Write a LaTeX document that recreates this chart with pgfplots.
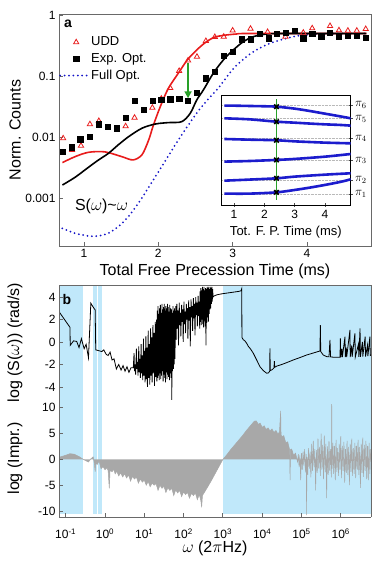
\documentclass[border=0pt]{standalone}
\usepackage{fontspec}
\setmainfont{Liberation Sans}
\usepackage{pgfplots}
\pgfplotsset{compat=1.18}
\usetikzlibrary{arrows.meta}
\definecolor{shadeblue}{RGB}{192,232,250}
\definecolor{udred}{RGB}{232,28,28}
\definecolor{fullblue}{RGB}{20,20,200}
\definecolor{inblue}{RGB}{28,28,205}
\definecolor{arrgreen}{RGB}{40,160,40}
\definecolor{impgray}{RGB}{168,168,168}
\definecolor{framegray}{RGB}{105,105,105}
\newcommand{\fs}[1]{\fontsize{#1}{#1}\selectfont}
\pgfplotsset{
 marklegend/.style={legend image code/.code={\path[draw=none,fill=none] (0pt,0pt) -- (28pt,0pt); \draw[##1, only marks] plot coordinates {(16pt,0pt)};}},
 linelegend/.style={legend image code/.code={\draw[##1] (0pt,0pt) -- (28pt,0pt);}},
}
\begin{document}
\begin{tikzpicture}
\path[use as bounding box] (0pt,0pt) rectangle (383pt,561pt);
% ---------------- panel a ----------------
\begin{axis}[
 at={(59pt,315pt)}, anchor=south west, scale only axis, width=312pt, height=232pt,
 xmin=0.664, xmax=4.861, ymode=log, ymin=1.63e-4, ymax=1.038,
 xtick={1,2,3,4}, ytick={0.001,0.01,0.1,1}, yticklabels={0.001,0.01,0.1,1},
 yminorticks=false, xminorticks=false,
 tick align=inside, tick pos=left, major tick length=4pt,
 axis line style={framegray, line width=0.8pt},
 every tick/.style={framegray, line width=0.8pt},
 tick label style={font=\fs{12}},
 /pgf/number format/assume math mode=true,
 xlabel={Total Free Precession Time (ms)}, ylabel={Norm. Counts},
 label style={font=\fs{16}},
 xlabel style={at={(axis description cs:0.5,-0.111)}, anchor=center},
 ylabel style={at={(axis description cs:-0.141,0.5)}, anchor=center},
 legend cell align=left,
 legend style={at={(axis description cs:0.0,0.806)}, anchor=west, draw=none, fill=none,
   font=\fs{13}, row sep=2pt, inner xsep=0pt, inner ysep=0pt,
   /tikz/every even column/.append style={column sep=5pt}},
]
\addplot[only marks, mark=triangle, mark size=3pt, udred, mark options={line width=0.8pt}, marklegend]
 coordinates {(0.72,0.0095) (0.84,0.0061) (0.96,0.0072) (1.08,0.0162) (1.20,0.0183)
 (1.56,0.0150) (1.68,0.0207) (1.92,0.0302) (2.04,0.0425) (2.16,0.0636) (2.28,0.121)
 (2.40,0.1795) (2.52,0.207) (2.64,0.375) (2.76,0.436) (2.88,0.441) (3.00,0.557)
 (3.24,0.596) (3.47,0.527) (3.71,0.441) (3.95,0.513) (4.07,0.605) (4.31,0.660)
 (4.43,0.561) (4.55,0.553) (4.67,0.553) (4.79,0.589)};
\addlegendentry{UDD}
\addplot[only marks, mark=square*, mark size=2.6pt, black, marklegend]
 coordinates {(0.71,0.00574) (0.83,0.00678) (0.95,0.00917) (1.08,0.0101) (1.20,0.0162)
 (1.32,0.0148) (1.44,0.0139) (1.56,0.0207) (1.68,0.0389) (1.80,0.0277) (1.92,0.0389)
 (2.04,0.0404) (2.16,0.0415) (2.28,0.0425) (2.40,0.0389) (2.52,0.0532) (2.64,0.0917)
 (2.76,0.1175) (2.88,0.213) (3.00,0.250) (3.12,0.400) (3.24,0.400) (3.36,0.488)
 (3.48,0.415) (3.59,0.488) (3.71,0.513) (3.83,0.553) (3.95,0.415) (4.07,0.49)
 (4.19,0.441) (4.31,0.513) (4.43,0.441) (4.55,0.453) (4.67,0.453) (4.79,0.425)};
\addlegendentry{Exp. Opt.}
\addplot[fullblue, line width=2pt, dash pattern=on 0pt off 4.4pt, line cap=round, smooth, linelegend]
 coordinates {(0.708,3.18e-4) (0.879,2.64e-4) (1.058,2.38e-4) (1.192,2.38e-4) (1.327,2.64e-4)
 (1.462,3.39e-4) (1.596,4.93e-4) (1.731,8.18e-4) (1.865,1.46e-3) (2.0,2.67e-3)
 (2.135,4.88e-3) (2.269,8.93e-3) (2.404,0.0157) (2.538,0.0267) (2.673,0.042)
 (2.808,0.0636) (2.942,0.104) (3.055,0.151) (3.279,0.250) (3.503,0.343)
 (3.728,0.415) (3.952,0.470) (4.176,0.488) (4.446,0.497) (4.80,0.497)};
\addlegendentry{Full Opt.}
\addplot[udred, line width=1.6pt, smooth, forget plot]
 coordinates {(0.71,0.0038) (0.88,0.00475) (1.06,0.0056) (1.28,0.0057) (1.51,0.00475)
 (1.66,0.0042) (1.78,0.0051) (1.87,0.0089) (1.93,0.0151) (2.02,0.030) (2.13,0.061)
 (2.269,0.111) (2.39,0.183) (2.517,0.267) (2.638,0.357) (2.754,0.431) (2.875,0.463)
 (3.055,0.488) (3.234,0.497) (4.8,0.497)};
\addplot[black, line width=1.6pt, smooth, forget plot]
 coordinates {(0.71,0.00163) (0.88,0.00218) (1.06,0.00318) (1.19,0.00415) (1.33,0.0054)
 (1.46,0.0074) (1.60,0.0101) (1.78,0.0139) (1.96,0.0163) (2.135,0.0172) (2.315,0.0178)
 (2.43,0.0245) (2.517,0.0404) (2.606,0.0589) (2.74,0.111) (2.875,0.183) (3.009,0.267)
 (3.144,0.365) (3.279,0.441) (3.459,0.488) (3.7,0.497) (4.8,0.497)};
\addplot[arrgreen, line width=1.8pt, -{Triangle[width=7pt,length=7pt]}, forget plot]
 coordinates {(2.40,0.163) (2.40,0.0431)};
\node[font=\bfseries\fs{14}] at (rel axis cs:0.029,0.957) {a};
\node[font=\fs{16}, anchor=west] at (rel axis cs:0.040,0.172) {S($\omega$)\textasciitilde$\omega$};
\end{axis}
% ---------------- inset ----------------
\begin{axis}[
 at={(221pt,356pt)}, anchor=south west, scale only axis, width=129.7pt, height=109.3pt,
 xmin=0.571, xmax=4.848, ymin=-0.062, ymax=1.044,
 axis background/.style={fill=white},
 xtick={1,2,3,4}, ytick={0.0495,0.1883,0.3887,0.6113,0.8117,0.9505},
 yticklabels={$\pi_1$,$\pi_2$,$\pi_3$,$\pi_4$,$\pi_5$,$\pi_6$},
 xtick pos=left, ytick pos=right, tick align=center, major tick length=4pt,
 ymajorgrids, grid style={densely dotted, gray!55},
 axis line style={black, line width=0.8pt},
 every tick/.style={black!70, line width=0.7pt},
 tick label style={font=\fs{12}},
 yticklabel style={font=\fs{12}, xshift=-1pt},
 /pgf/number format/assume math mode=true,
 xlabel={Tot. F. P. Time (ms)},
 xlabel style={font=\fs{13}, at={(axis description cs:0.5,-0.244)}, anchor=center},
]
\addplot[inblue, line width=2.6pt, smooth] coordinates {(0.68,0.943) (1.0,0.943) (1.5,0.940) (2.0,0.937) (2.4,0.933) (3.0,0.913) (3.5,0.889) (4.0,0.862) (4.5,0.835) (4.85,0.815)};
\addplot[inblue, line width=2.6pt, smooth] coordinates {(0.68,0.815) (1.5,0.805) (2.4,0.781) (3.0,0.771) (3.5,0.762) (4.0,0.754) (4.5,0.748) (4.85,0.741)};
\addplot[inblue, line width=2.6pt, smooth] coordinates {(0.68,0.606) (1.5,0.599) (2.4,0.593) (3.0,0.582) (4.0,0.569) (4.85,0.562)};
\addplot[inblue, line width=2.6pt, smooth] coordinates {(0.68,0.377) (1.5,0.383) (2.4,0.394) (3.0,0.404) (4.0,0.427) (4.85,0.454)};
\addplot[inblue, line width=2.6pt, smooth] coordinates {(0.68,0.184) (1.5,0.195) (2.4,0.208) (3.0,0.225) (4.0,0.245) (4.85,0.259)};
\addplot[inblue, line width=2.6pt, smooth] coordinates {(0.68,0.053) (1.5,0.053) (2.4,0.066) (3.0,0.090) (3.5,0.114) (4.0,0.141) (4.5,0.171) (4.85,0.198)};
\addplot[arrgreen, line width=1.2pt] coordinates {(2.4,-0.011) (2.4,1.008)};
\addplot[only marks, mark=x, mark size=3.2pt, black, mark options={line width=1.6pt}]
 coordinates {(2.4,0.933) (2.4,0.781) (2.4,0.593) (2.4,0.394) (2.4,0.208) (2.4,0.066)};
\end{axis}
% ---------------- panel b, upper ----------------
\begin{axis}[
 at={(59pt,161pt)}, anchor=south west, scale only axis, width=312pt, height=115pt,
 xmin=-1.17, xmax=6.769, ymin=-5.16, ymax=5.07,
 axis x line*=top, xtick=\empty,
 ytick={-4,-2,0,2,4}, yticklabels={-4,-2,0,2,4}, ytick pos=left,
 tick align=inside, major tick length=4pt, axis on top,
 axis line style={framegray, line width=0.8pt},
 every tick/.style={framegray, line width=0.8pt},
 tick label style={font=\fs{12}},
 ylabel={log (S($\omega$)) (rad/s)}, label style={font=\fs{16}},
 ylabel style={at={(axis description cs:-0.141,0.5)}, anchor=center},
]
\addplot[fill=shadeblue, draw=none] coordinates {(-1.17,-5.16) (-1.17,5.07) (-0.567,5.07) (-0.567,-5.16)};
\addplot[fill=shadeblue, draw=none] coordinates {(-0.313,-5.16) (-0.313,5.07) (-0.211,5.07) (-0.211,-5.16)};
\addplot[fill=shadeblue, draw=none] coordinates {(-0.170,-5.16) (-0.170,5.07) (-0.084,5.07) (-0.084,-5.16)};
\addplot[fill=shadeblue, draw=none] coordinates {(3.0,-5.16) (3.0,5.07) (6.769,5.07) (6.769,-5.16)};
\addplot[black, line width=0.8pt] coordinates {
(-1.17,2.70) (-0.89,1.30) (-0.885,-0.30) (-0.80,0.10) (-0.72,0.05) (-0.66,-0.50) (-0.60,0.30)
(-0.53,-0.60) (-0.48,-0.20) (-0.42,-1.40) (-0.36,3.45) (-0.30,3.10) (-0.25,2.85) (-0.235,-0.70)
(-0.08,-0.85) (-0.03,-0.70) (0.03,-1.10) (0.08,-1.20) (0.13,-0.90) (0.18,-1.60) (0.23,-1.50)
(0.29,-2.40) (0.35,-2.00) (0.41,-2.50) (0.46,-2.10) (0.51,-2.60) (0.56,-2.20) (0.61,-2.70)
(0.66,-2.30) (0.72,-2.30)
(0.74,-1.0) (0.75,-2.6) (0.77,-2.0) (0.78,-2.9) (0.80,-0.6) (0.81,-2.4) (0.83,-1.8) (0.84,-3.0)
(0.86,-0.4) (0.87,-2.7) (0.89,-1.5) (0.90,-3.2) (0.92,-0.2) (0.93,-2.8) (0.95,-1.2) (0.96,-3.4)
(0.98,0.3) (0.99,-3.0) (1.01,-0.8) (1.02,-3.6) (1.04,0.5) (1.05,-3.3) (1.07,-0.5) (1.08,-4.0)
(1.10,1.0) (1.11,-3.2) (1.13,-0.2) (1.14,-3.8) (1.16,1.2) (1.17,-3.0) (1.19,0.4) (1.20,-3.6)
(1.22,1.5) (1.23,-2.8) (1.25,0.8) (1.26,-3.9) (1.28,1.8) (1.29,-3.1) (1.31,2.0) (1.32,-3.5)
(1.33,2.8) (1.34,-3.2) (1.35,3.2) (1.36,-3.0) (1.37,2.5) (1.38,-3.4) (1.39,3.0) (1.40,-2.8)
(1.41,3.3) (1.42,-3.3) (1.43,2.6) (1.44,-3.0) (1.45,3.4) (1.46,-2.6) (1.47,2.9) (1.48,-3.5)
(1.49,3.1) (1.50,-2.9) (1.51,3.4) (1.52,-3.2) (1.53,2.8) (1.54,-3.6) (1.55,3.2) (1.56,-2.7)
(1.57,3.0) (1.58,-3.3) (1.59,3.4) (1.60,-2.9) (1.61,3.1) (1.62,-3.1) (1.63,2.7) (1.64,-3.4)
(1.65,3.3) (1.66,-2.8) (1.67,3.0) (1.68,-3.2) (1.69,2.9) (1.70,-5.2) (1.71,2.6) (1.72,-2.6)
(1.73,3.2) (1.74,-2.4) (1.75,2.8) (1.76,-2.0) (1.77,3.0) (1.78,-1.5)
(1.80,3.2) (1.81,0.2) (1.83,3.4) (1.84,1.2) (1.86,2.8) (1.87,-0.3) (1.89,3.5) (1.90,1.5)
(1.92,2.6) (1.93,0.5) (1.95,3.3) (1.96,1.8) (1.98,2.9) (1.99,0.0) (2.01,3.6) (2.02,1.6)
(2.04,2.7) (2.05,0.8) (2.07,3.4) (2.08,2.0) (2.10,3.0) (2.11,0.3) (2.13,3.7) (2.14,1.9)
(2.16,3.1) (2.17,-0.4) (2.19,3.8) (2.20,2.2) (2.22,3.2) (2.23,1.0) (2.25,3.9) (2.26,2.1)
(2.28,3.4) (2.29,0.6) (2.31,4.0) (2.32,2.4) (2.34,3.5) (2.35,1.4) (2.37,4.1) (2.38,2.3)
(2.40,3.6) (2.41,1.2)
(2.42,4.5) (2.43,1.8) (2.44,4.8) (2.45,1.5) (2.46,4.6) (2.47,2.0) (2.48,4.9) (2.49,1.6)
(2.50,4.7) (2.51,1.3) (2.52,4.9) (2.53,1.9) (2.54,4.6) (2.55,1.4) (2.56,4.8) (2.57,-0.3)
(2.58,4.7) (2.59,1.7) (2.60,4.9) (2.61,2.2) (2.62,4.8) (2.63,1.8) (2.64,4.9) (2.65,2.5)
(2.66,4.7) (2.67,2.9) (2.68,4.9) (2.69,3.0) (2.70,4.8) (2.71,3.4) (2.72,4.9) (2.73,3.6)
(2.74,4.7) (2.75,4.0)
(2.78,4.1) (2.85,4.2) (2.92,4.25) (3.0,4.3) (3.1,4.35) (3.2,4.4) (3.3,4.45) (3.4,4.5) (3.46,4.55)
(3.48,4.75) (3.485,0.40) (3.52,0.20) (3.56,0.10) (3.606,-0.12) (3.65,-0.40) (3.70,-0.60)
(3.774,-1.00) (3.86,-1.60) (3.944,-2.20) (4.03,-2.55) (4.115,-2.78) (4.16,-2.75) (4.19,-2.60)
(4.198,-0.56) (4.205,-2.55) (4.26,-2.45) (4.30,-2.30) (4.31,-1.70) (4.32,-2.25) (4.37,-2.15)
(4.50,-2.00) (4.65,-1.80) (4.79,-1.60) (4.95,-1.40) (5.13,-1.16) (5.30,-0.98) (5.47,-0.80)
(5.48,1.50) (5.49,-0.85) (5.555,-1.16) (5.641,-1.30) (5.70,-1.32) (5.725,0.18) (5.74,-1.32)
(5.80,-1.35) (5.90,-1.36) (5.98,-1.36) (5.99,0.33) (6.00,-1.36) (6.03,-0.6) (6.04,-1.35)
(6.107,0.47) (6.115,-1.35) (6.14,-0.5) (6.15,-1.34) (6.234,1.07) (6.24,-1.34) (6.28,-0.3)
(6.29,-1.33) (6.36,0.77) (6.37,-1.33) (6.45,-0.2) (6.46,-1.32) (6.49,1.20) (6.50,-1.32)
(6.55,0.0) (6.56,-1.30) (6.62,0.47) (6.63,-1.30) (6.68,-0.3) (6.69,-1.25) (6.74,0.47)
(6.75,-1.20) (6.77,-1.15)};
\node[font=\bfseries\fs{14}] at (rel axis cs:0.025,0.87) {b};
\end{axis}
% ---------------- panel b, lower ----------------
\begin{axis}[
 at={(59pt,44pt)}, anchor=south west, scale only axis, width=312pt, height=117pt,
 xmin=-1.17, xmax=6.769, ymin=-11.15, ymax=11.5,
 axis x line*=bottom,
 xtick={-1,0,1,2,3,4,5,6},
 xticklabels={10\textsuperscript{-1},10\textsuperscript{0},10\textsuperscript{1},10\textsuperscript{2},10\textsuperscript{3},10\textsuperscript{4},10\textsuperscript{5},10\textsuperscript{6}},
 ytick={-10,-5,0,5,10}, yticklabels={-10,-5,0,5,10}, ytick pos=left,
 tick align=inside, major tick length=4pt, axis on top,
 axis line style={framegray, line width=0.8pt},
 every tick/.style={framegray, line width=0.8pt},
 tick label style={font=\fs{12}},
 xticklabel style={yshift=-8pt},
 xlabel={$\omega$ (2$\pi$Hz)}, ylabel={log (Impr.)}, label style={font=\fs{16}},
 xlabel style={at={(axis description cs:0.5,-0.27)}, anchor=center},
 ylabel style={at={(axis description cs:-0.141,0.5)}, anchor=center},
]
\addplot[fill=shadeblue, draw=none] coordinates {(-1.17,-10.6) (-1.17,11.5) (-0.567,11.5) (-0.567,-10.6)};
\addplot[fill=shadeblue, draw=none] coordinates {(-0.313,-10.6) (-0.313,11.5) (-0.211,11.5) (-0.211,-10.6)};
\addplot[fill=shadeblue, draw=none] coordinates {(-0.170,-10.6) (-0.170,11.5) (-0.084,11.5) (-0.084,-10.6)};
\addplot[fill=shadeblue, draw=none] coordinates {(3.0,-10.6) (3.0,11.5) (6.769,11.5) (6.769,-10.6)};
\addplot[fill=impgray, draw=impgray, line width=0.5pt] coordinates {
(-1.17,0) (-1.17,0.4) (-1.0,0.8) (-0.89,1.1) (-0.78,1.0) (-0.65,0.5) (-0.55,0.0) (-0.5,-0.2)
(-0.42,-0.5) (-0.36,0.1) (-0.30,0.5) (-0.27,-0.8) (-0.25,-2.4) (-0.23,-0.5) (-0.2,-1.0)
(-0.15,-0.3) (-0.12,-1.2) (-0.1,-1.8) (-0.05,-1.4) (0.0,-2.0) (0.05,-1.6) (0.08,-2.2)
(0.11,-5.6) (0.13,-2.0) (0.18,-2.4) (0.22,-1.9) (0.26,-2.8) (0.3,-2.3) (0.35,-3.2) (0.4,-2.6)
(0.45,-3.4) (0.5,-2.8) (0.55,-3.6) (0.6,-3.0) (0.65,-4.2) (0.7,-3.3) (0.75,-3.8) (0.8,-3.4)
(0.85,-4.6) (0.9,-3.8) (0.95,-4.4) (1.0,-4.0) (1.05,-5.0) (1.1,-4.3) (1.15,-5.3) (1.2,-4.6)
(1.25,-5.0) (1.3,-4.7) (1.35,-6.0) (1.4,-5.0) (1.45,-5.6) (1.5,-5.2) (1.55,-6.4) (1.6,-5.5)
(1.65,-6.0) (1.7,-5.6) (1.75,-7.0) (1.8,-5.9) (1.85,-6.5) (1.9,-6.0) (1.95,-7.2) (2.0,-6.3)
(2.05,-6.8) (2.1,-6.4) (2.15,-7.5) (2.2,-6.6) (2.25,-7.0) (2.3,-6.5) (2.35,-7.8) (2.4,-6.8)
(2.44,-8.0) (2.46,-9.3) (2.48,-7.0) (2.52,-6.5) (2.6,-5.5) (2.7,-4.2) (2.8,-2.8) (2.9,-1.4)
(3.0,0.0) (3.1,0.9) (3.2,1.9) (3.3,2.8) (3.4,3.7) (3.5,4.6) (3.6,5.6) (3.7,6.5) (3.8,7.4)
(3.85,7.45) (3.9,6.8) (3.95,7.0) (4.0,6.2) (4.05,6.5) (4.1,5.8) (4.15,6.1) (4.2,5.5) (4.25,5.9)
(4.3,5.2) (4.35,5.6) (4.4,4.9) (4.44,5.3) (4.47,9.4) (4.48,4.8) (4.5,4.4) (4.55,4.6) (4.6,3.2)
(4.65,3.4) (4.7,1.8) (4.71,-4.0) (4.72,1.9) (4.75,2.0) (4.8,0.8) (4.85,1.2)
(4.90,-0.5) (4.92,1.0) (4.94,-1.5) (4.96,0.8) (4.98,-4.0) (5.00,1.2) (5.02,-2.0) (5.04,1.5)
(5.06,-1.2) (5.08,2.0) (5.10,-2.5) (5.12,1.0) (5.13,-10.8) (5.14,0.5) (5.16,-3.0) (5.18,2.2)
(5.20,-1.8) (5.22,1.5) (5.24,-3.5) (5.26,3.0) (5.28,-2.2) (5.30,3.6) (5.32,-1.5) (5.34,2.0)
(5.36,-6.0) (5.38,1.8) (5.40,-2.6) (5.42,4.0) (5.44,-1.8) (5.46,2.4) (5.48,-3.2) (5.50,5.0)
(5.52,-2.0) (5.54,2.8) (5.56,-3.8) (5.58,4.6) (5.60,-2.5) (5.62,3.0) (5.64,-7.5) (5.66,2.5)
(5.68,-3.0) (5.70,3.5) (5.72,-2.2) (5.74,2.0) (5.76,-3.5) (5.77,10.7) (5.78,-1.8) (5.80,3.2)
(5.82,-2.8) (5.84,2.6) (5.86,-4.0) (5.88,3.8) (5.90,-2.4) (5.92,2.2) (5.94,-3.2) (5.96,3.0)
(5.98,-2.0) (6.00,4.5) (6.02,-3.6) (6.04,2.6) (6.06,-2.2) (6.08,3.4) (6.10,-4.5) (6.12,2.0)
(6.14,-2.6) (6.16,3.6) (6.18,-3.0) (6.20,2.4) (6.22,-5.0) (6.24,3.0) (6.26,-2.4) (6.28,4.0)
(6.30,-3.2) (6.32,2.2) (6.34,-2.8) (6.36,3.2) (6.38,-3.6) (6.40,2.6) (6.42,-2.0) (6.44,3.8)
(6.46,-3.0) (6.48,2.4) (6.50,-5.5) (6.52,3.0) (6.54,-2.6) (6.56,4.2) (6.58,-3.4) (6.60,2.8)
(6.62,-2.2) (6.64,3.6) (6.66,-3.8) (6.68,2.6) (6.70,-4.0) (6.72,3.2) (6.74,-2.8) (6.76,2.0)
(6.769,0)};
\end{axis}
\end{tikzpicture}
\end{document}
